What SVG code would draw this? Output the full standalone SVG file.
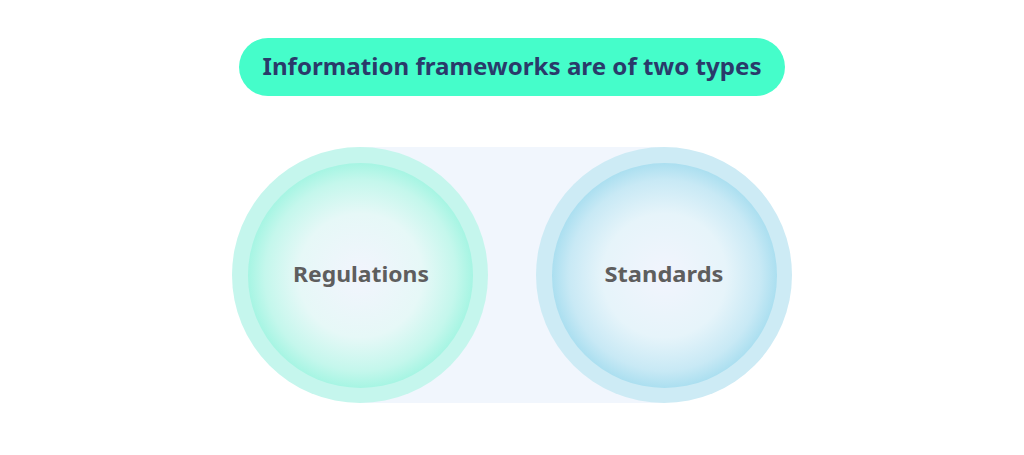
<svg xmlns="http://www.w3.org/2000/svg" width="1024" height="455" viewBox="0 0 1024 455">
  <defs>
    <radialGradient id="gMint" cx="50%" cy="50%" r="50%">
      <stop offset="0%" stop-color="#f2f4fd"/>
      <stop offset="55%" stop-color="#e6f8f7"/>
      <stop offset="85%" stop-color="#c4f7ec"/>
      <stop offset="100%" stop-color="#a6f5e3"/>
    </radialGradient>
    <radialGradient id="gBlue" cx="50%" cy="50%" r="50%">
      <stop offset="0%" stop-color="#f2f4fd"/>
      <stop offset="55%" stop-color="#e6f4fa"/>
      <stop offset="85%" stop-color="#c8e9f5"/>
      <stop offset="100%" stop-color="#abdff0"/>
    </radialGradient>
    <style>
      .title { font-family: "Noto Sans", "Open Sans", sans-serif; font-weight: 700; font-size: 24px; fill: #2a3a6a; }
      .label { font-family: "Noto Sans", "Open Sans", sans-serif; font-weight: 700; font-size: 21px; fill: #5e5e5e; }
    </style>
  </defs>
  <rect width="1024" height="455" fill="#ffffff"/>

  <g id="title">
    <rect x="239" y="38" width="546" height="58" rx="29" fill="#45fdca"/>
    <text class="title" x="512" y="75" text-anchor="middle" textLength="499" lengthAdjust="spacingAndGlyphs">Information frameworks are of two types</text>
  </g>

  <g id="connectors">
    <rect x="360" y="147" width="304" height="256" fill="#f1f6fd"/>
  </g>

  <g id="regulations">
    <circle cx="360" cy="275" r="128" fill="#c5f6ed"/>
    <circle cx="360.5" cy="275.5" r="112.5" fill="url(#gMint)"/>
    <text class="label" x="361" y="282" text-anchor="middle" textLength="136" lengthAdjust="spacingAndGlyphs">Regulations</text>
  </g>

  <g id="standards">
    <circle cx="664" cy="275" r="128" fill="#cdebf5"/>
    <circle cx="664.5" cy="275.5" r="112.5" fill="url(#gBlue)"/>
    <text class="label" x="664" y="282" text-anchor="middle" textLength="119" lengthAdjust="spacingAndGlyphs">Standards</text>
  </g>
</svg>
